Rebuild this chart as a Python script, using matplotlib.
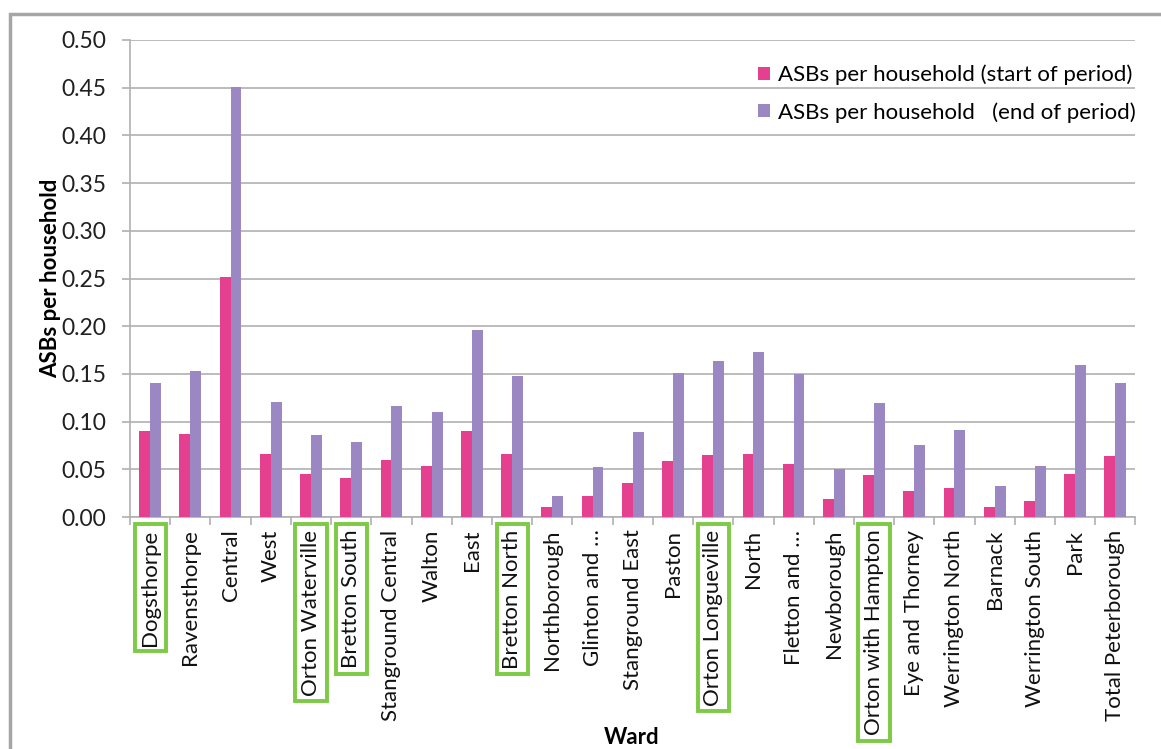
import numpy as np
import matplotlib.pyplot as plt
from matplotlib.patches import Rectangle

wards = [
    "Dogsthorpe", "Ravensthorpe", "Central", "West", "Orton Waterville",
    "Bretton South", "Stanground Central", "Walton", "East", "Bretton North",
    "Northborough", "Glinton and \u2026", "Stanground East", "Paston",
    "Orton Longueville", "North", "Fletton and \u2026", "Newborough",
    "Orton with Hampton", "Eye and Thorney", "Werrington North", "Barnack",
    "Werrington South", "Park", "Total Peterborough",
]
start_of_period = [
    0.090, 0.087, 0.252, 0.066, 0.045, 0.041, 0.060, 0.053, 0.090, 0.066,
    0.010, 0.022, 0.036, 0.059, 0.065, 0.066, 0.056, 0.019, 0.044, 0.027,
    0.030, 0.010, 0.017, 0.045, 0.064,
]
end_of_period = [
    0.141, 0.153, 0.451, 0.121, 0.086, 0.079, 0.116, 0.110, 0.196, 0.148,
    0.022, 0.052, 0.089, 0.151, 0.164, 0.173, 0.150, 0.050, 0.120, 0.075,
    0.091, 0.033, 0.053, 0.159, 0.141,
]
highlighted = ["Dogsthorpe", "Orton Waterville", "Bretton South",
               "Bretton North", "Orton Longueville", "Orton with Hampton"]

PINK = "#E5408F"
PURPLE = "#9B87C1"
GRID = "#B0B0B0"
FONT = "Lato"


def main():
    fig = plt.figure(figsize=(11.61, 7.49), dpi=100)
    ax = fig.add_axes([0.112, 0.3097, 0.866, 0.6369])

    # outer chart frame (only left and top edges are visible in the crop)
    fig.patches.append(Rectangle((10 / 1161, -0.1), 1.2, 1 - 14 / 749 + 0.1,
                                 transform=fig.transFigure, fill=False,
                                 edgecolor="#A6A6A6", linewidth=2.5))

    x = np.arange(len(wards))
    w = 0.27
    ax.bar(x - w / 2, start_of_period, w, color=PINK,
           label="ASBs per household (start of period)", zorder=3)
    ax.bar(x + w / 2, end_of_period, w, color=PURPLE,
           label="ASBs per household   (end of period)", zorder=3)

    ax.set_xlim(-0.5, len(wards) - 0.5)
    ax.set_ylim(0, 0.5)
    yt = np.arange(0, 0.501, 0.05)
    ax.set_yticks(yt)
    ax.set_yticklabels([f"{v:.2f}" for v in yt],
                       fontsize=16.5, family=FONT, color="#202020")
    ax.yaxis.grid(True, color=GRID, linewidth=1.2, zorder=0)

    ax.set_xticks(x)
    ax.set_xticklabels(wards, rotation=90, fontsize=16, family=FONT,
                       color="#111111")
    ax.set_xticks(np.arange(-0.5, len(wards), 1), minor=True)
    ax.tick_params(axis="x", which="major", length=0, pad=9)
    ax.tick_params(axis="x", which="minor", length=6, color=GRID, width=1.2)
    ax.tick_params(axis="y", length=6, color=GRID, width=1.2, pad=11)

    for lab in ax.get_xticklabels():
        if lab.get_text() in highlighted:
            lab.set_bbox(dict(facecolor="none", edgecolor="#7DCA45",
                              linewidth=2.8, boxstyle="square,pad=0.25"))

    for s in ["top", "right"]:
        ax.spines[s].set_visible(False)
    for s in ["left", "bottom"]:
        ax.spines[s].set_color(GRID)
        ax.spines[s].set_linewidth(1.2)

    ax.set_ylabel("ASBs per household", fontsize=16, fontweight="bold",
                  family=FONT, labelpad=0)
    fig.text(632 / 1161, 1 - 738 / 749, "Ward", fontsize=16,
             fontweight="bold", family=FONT, ha="center", va="center")

    ax.legend(loc="upper right", bbox_to_anchor=(1.02, 0.99),
              frameon=False, handlelength=0.55, handleheight=0.55,
              handletextpad=0.35, labelspacing=0.75,
              prop={"family": FONT, "size": 16})

    fig.savefig("out.png", dpi=100)
    plt.close(fig)


if __name__ == "__main__":
    main()
